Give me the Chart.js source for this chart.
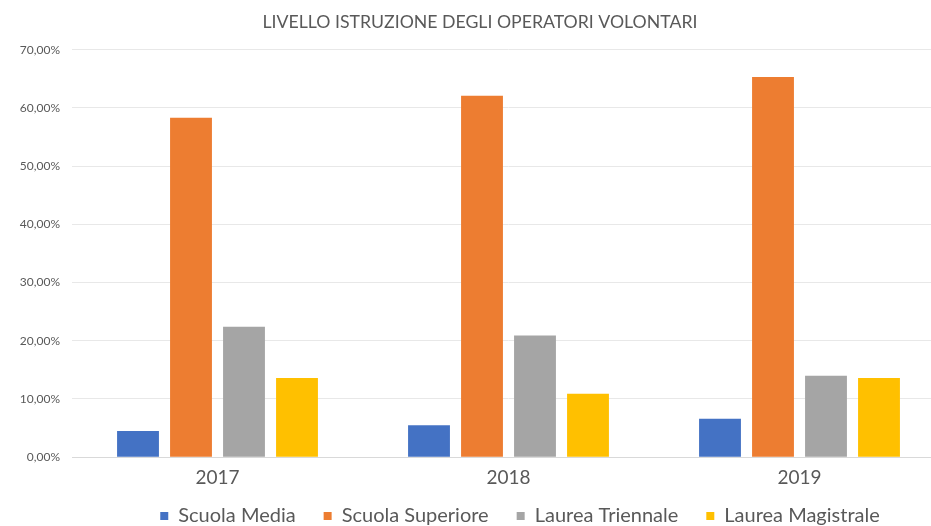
<!DOCTYPE html>
<html>
<head>
<meta charset="utf-8">
<script src="https://cdn.jsdelivr.net/npm/chart.js@4/dist/chart.umd.min.js"></script>
<style>
html,body{margin:0;padding:0;background:#fff;overflow:hidden;width:931px;height:526px;}
#wrap{position:absolute;left:0;top:0;width:945px;height:556px;}
</style>
</head>
<body>
<div id="wrap"><canvas id="c" width="945" height="556"></canvas></div>
<script>
const categories = ['2017', '2018', '2019'];
const seriesNames = ['Scuola Media', 'Scuola Superiore', 'Laurea Triennale', 'Laurea Magistrale'];
const scuolaMedia = [4.5, 5.5, 6.6];
const scuolaSuperiore = [58.3, 62.1, 65.3];
const laureaTriennale = [22.4, 20.9, 14.0];
const laureaMagistrale = [13.6, 10.9, 13.6];
const yTicks = [0, 10, 20, 30, 40, 50, 60, 70];
const colors = ['#4472C4', '#ED7D31', '#A5A5A5', '#FFC000'];
const titleText = 'LIVELLO ISTRUZIONE DEGLI OPERATORI VOLONTARI';

const textColor = '#595959';
const values = [scuolaMedia, scuolaSuperiore, laureaTriennale, laureaMagistrale];

const legendShift = {
  id: 'legendShift',
  afterLayout(chart) {
    const lg = chart.legend;
    if (!lg) return;
    const dx = 40;
    lg.left += dx; lg.right += dx;
    const h = lg.bottom - lg.top;
    lg.top = 478;
    lg.bottom = lg.top + h;
  }
};

new Chart(document.getElementById('c'), {
  type: 'bar',
  data: {
    labels: categories,
    datasets: seriesNames.map((n, i) => ({
      label: n,
      data: values[i],
      backgroundColor: colors[i],
      borderWidth: 0,
      categoryPercentage: 0.7285,
      barPercentage: 0.79
    }))
  },
  options: {
    responsive: false,
    animation: false,
    devicePixelRatio: 1,
    layout: { padding: { left: 15, right: 0, top: 0, bottom: 0 } },
    plugins: {
      title: {
        display: true,
        text: titleText,
        color: textColor,
        font: { family: 'Lato', size: 17.7, weight: 'normal' },
        padding: { top: 12, bottom: 16.5 }
      },
      legend: {
        position: 'bottom',
        labels: {
          color: textColor,
          font: { family: 'Lato', size: 20 },
          boxWidth: 8,
          boxHeight: 8,
          padding: 28
        }
      },
      tooltip: { enabled: false }
    },
    scales: {
      x: {
        grid: { display: false, drawTicks: false },
        border: { display: true, color: '#d9d9d9' },
        ticks: { color: textColor, font: { family: 'Lato', size: 19 }, padding: 9 }
      },
      y: {
        min: 0,
        max: 70,
        afterFit(scale) { scale.width = 57; },
        afterBuildTicks(scale) { scale.ticks = yTicks.map(v => ({ value: v })); },
        grid: { color: '#e8e8e8', drawTicks: false },
        border: { display: false },
        ticks: {
          color: textColor,
          font: { family: 'Lato', size: 12 },
          padding: 12,
          callback: v => v.toFixed(2).replace('.', ',') + '%'
        }
      }
    }
  },
  plugins: [legendShift]
});
</script>
</body>
</html>
